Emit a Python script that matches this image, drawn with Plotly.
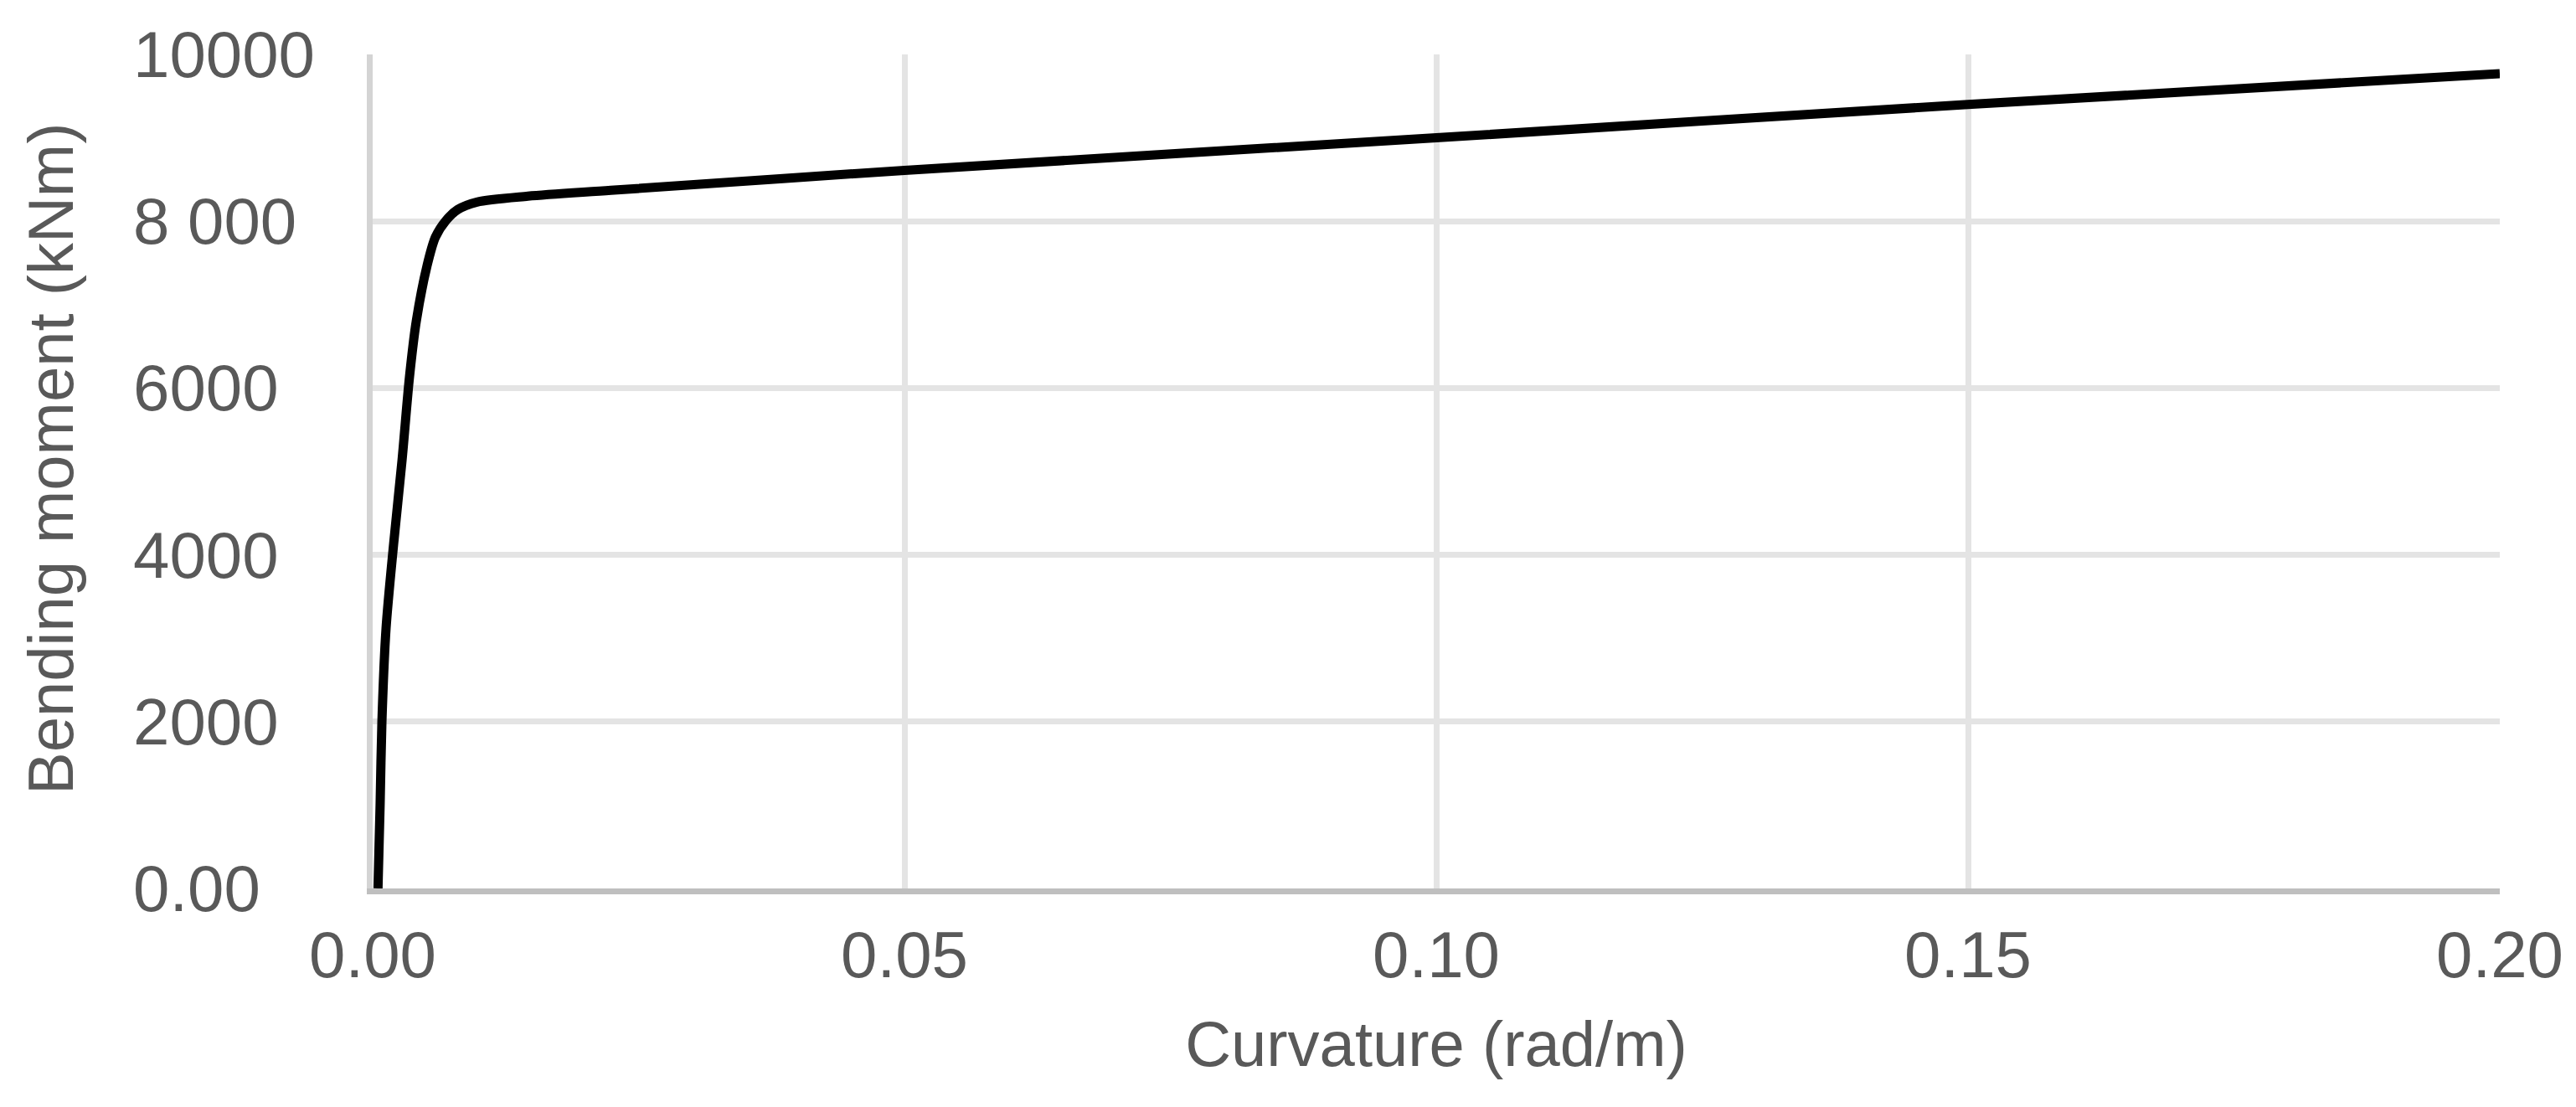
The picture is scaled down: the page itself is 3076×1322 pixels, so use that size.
import plotly.graph_objects as go

# moment-curvature curve
curvature = [0.0005, 0.0007, 0.00087, 0.00126, 0.00197, 0.00276, 0.00346, 0.0041,
             0.00512, 0.0059, 0.0069, 0.0080, 0.0098, 0.0146, 0.0224,
             0.05, 0.10, 0.15, 0.20]
moment = [0, 1000, 2000, 3120, 4130, 5130, 6130, 6800,
          7470, 7810, 8010, 8140, 8230, 8300, 8370,
          8610, 9000, 9400, 9770]

x_ticks = [0.0, 0.05, 0.10, 0.15, 0.20]
x_ticktext = ["0.00", "0.05", "0.10", "0.15", "0.20"]
y_ticks = [0, 2000, 4000, 6000, 8000, 10000]
y_ticktext = ["0.00", "2000", "4000", "6000", "8 000", "10000"]

font_family = "Liberation Sans, Arial, sans-serif"
grey_text = "#595959"

fig = go.Figure()
fig.add_trace(go.Scatter(x=curvature, y=moment, mode="lines",
                         line=dict(color="black", width=11, shape="spline", smoothing=0.8),
                         showlegend=False))

# y tick labels are left aligned in the original, so draw them as annotations
for v, t in zip(y_ticks, y_ticktext):
    fig.add_annotation(x=0, xref="paper", y=v, yref="y", text=t,
                       showarrow=False, xanchor="left", xshift=-288,
                       font=dict(family=font_family, size=78, color=grey_text))

# y title sits slightly above the middle of the plot
fig.add_annotation(x=0, xref="paper", y=0.5, yref="paper", text="Bending moment (kNm)",
                   textangle=-90, showarrow=False, xanchor="center", yanchor="middle",
                   xshift=-385, yshift=15,
                   font=dict(family=font_family, size=76, color=grey_text))

# page body adds an 8px margin, so the figure is a bit smaller than the window
fig.update_layout(
    width=3060, height=1306, autosize=False,
    margin=dict(l=437, r=83, t=57, b=253, autoexpand=False),
    plot_bgcolor="white", paper_bgcolor="white",
    xaxis=dict(
        range=[0, 0.2], tickvals=x_ticks, ticktext=x_ticktext,
        showgrid=True, gridcolor="#e4e4e4", gridwidth=7, zeroline=False,
        showline=True, linecolor="#bfbfbf", linewidth=7, automargin=False,
        ticks="", ticklabelstandoff=5,
        tickfont=dict(family=font_family, size=78, color=grey_text),
        title=dict(text="Curvature (rad/m)", standoff=40,
                   font=dict(family=font_family, size=76, color=grey_text)),
    ),
    yaxis=dict(
        range=[0, 10000], tickvals=y_ticks, showticklabels=False,
        showgrid=True, gridcolor="#e4e4e4", gridwidth=7, zeroline=False,
        showline=True, linecolor="#d4d4d4", linewidth=7, ticks="", automargin=False,
    ),
)

fig.write_html("out.html")
